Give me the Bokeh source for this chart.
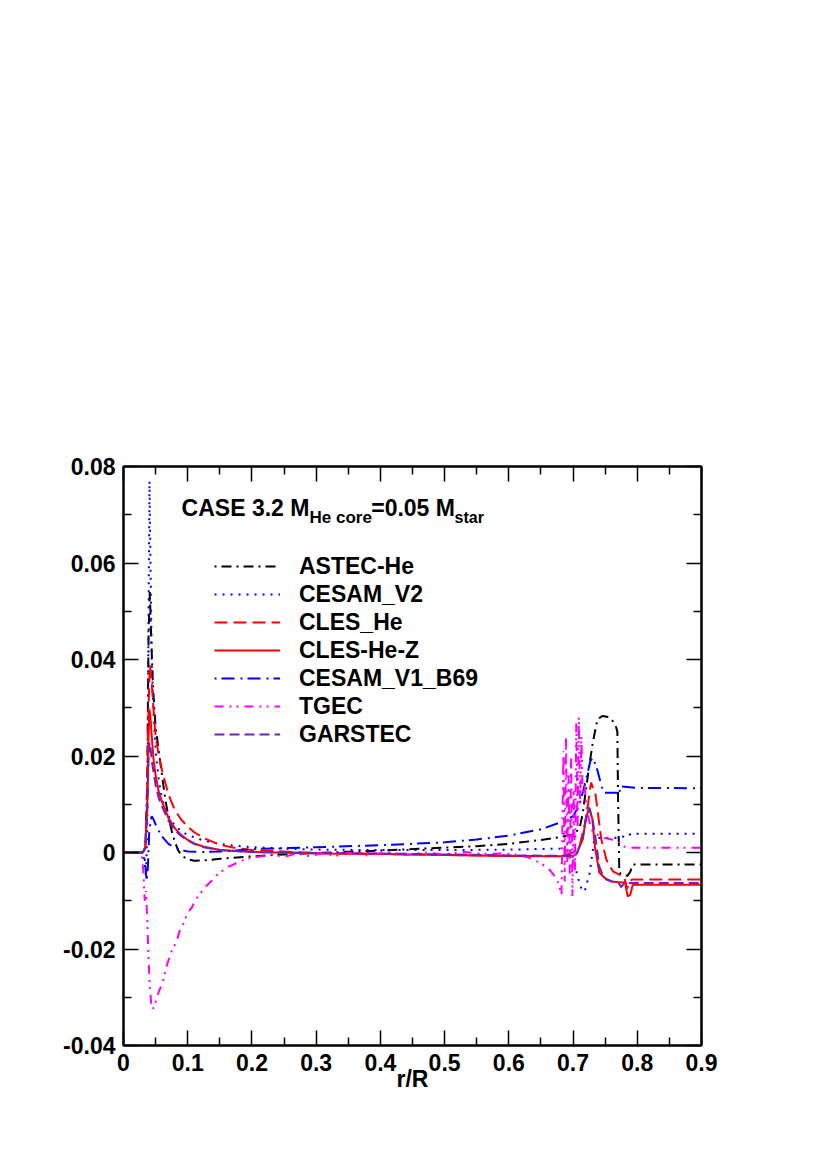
from bokeh.plotting import figure
from bokeh.models import (FixedTicker, LinearAxis, Legend, LegendItem, Label,
                          CustomJSTickFormatter, Range1d)
from bokeh.embed import file_html
from bokeh.resources import INLINE

# ---------------- data ----------------
astec_r = [0, 0.030, 0.034, 0.037, 0.039, 0.041, 0.043, 0.046, 0.050, 0.055, 0.060, 0.065,
           0.070, 0.075, 0.080, 0.085, 0.090, 0.100, 0.110, 0.130, 0.150, 0.200, 0.250, 0.300,
           0.400, 0.500, 0.550, 0.600, 0.650, 0.680, 0.700, 0.710, 0.715, 0.720, 0.726, 0.731,
           0.738, 0.746, 0.755, 0.762, 0.767, 0.769, 0.770, 0.772, 0.778, 0.785, 0.789, 0.793, 0.900]
astec_v = [0, 0, 0.001, 0.015, 0.045, 0.054, 0.045, 0.034, 0.026, 0.021, 0.016, 0.011,
           0.0075, 0.0045, 0.0022, 0.0005, -0.0006, -0.0014, -0.0017, -0.0016, -0.0013, -0.0008, -0.0004, -0.0001,
           0.0004, 0.0010, 0.0013, 0.0018, 0.0026, 0.0032, 0.0037, 0.0050, 0.0080, 0.0130, 0.0187, 0.0230,
           0.0276, 0.0283, 0.0281, 0.0272, 0.0260, 0.0250, 0.0120, -0.0042, -0.0047, -0.0048, -0.0040, -0.0025, -0.0025]

cesam2_r = [0, 0.030, 0.033, 0.035, 0.037, 0.039, 0.0405, 0.042, 0.044, 0.047, 0.050, 0.055,
            0.060, 0.070, 0.080, 0.090, 0.100, 0.120, 0.140, 0.160, 0.200, 0.250, 0.300, 0.400,
            0.500, 0.600, 0.680, 0.690, 0.700, 0.707, 0.713, 0.718, 0.726, 0.733, 0.740, 0.750,
            0.760, 0.770, 0.778, 0.783, 0.790, 0.900]
cesam2_v = [0, 0, -0.002, -0.005, 0.005, 0.050, 0.077, 0.060, 0.040, 0.028, 0.021, 0.015,
            0.011, 0.0075, 0.0056, 0.0044, 0.0036, 0.0027, 0.0020, 0.0016, 0.0011, 0.0008, 0.0006, 0.0005,
            0.0005, 0.0006, 0.0008, 0.0004, -0.0010, -0.0050, -0.0075, -0.0081, -0.0042, 0.0027, 0.0030, 0.0030,
            0.0031, 0.0030, 0.0033, 0.0031, 0.0039, 0.0039]

cles_r = [0, 0.030, 0.034, 0.037, 0.039, 0.041, 0.043, 0.046, 0.050, 0.055, 0.060, 0.070,
          0.080, 0.090, 0.100, 0.110, 0.125, 0.150, 0.175, 0.200, 0.300, 0.400, 0.500, 0.600,
          0.680, 0.700, 0.710, 0.720, 0.728, 0.735, 0.744, 0.752, 0.762, 0.772, 0.780, 0.784,
          0.788, 0.792, 0.900]
cles_v = [0, 0, 0.001, 0.012, 0.030, 0.039, 0.037, 0.031, 0.024, 0.020, 0.017, 0.012,
          0.0088, 0.0068, 0.0054, 0.0042, 0.0030, 0.0016, 0.0009, 0.0005, -0.0001, -0.0003, -0.0005, -0.0007,
          -0.0008, 0.0000, 0.0013, 0.0068, 0.0145, 0.0120, 0.0027, -0.0015, -0.0039, -0.0046, -0.0052, -0.0075,
          -0.0060, -0.0056, -0.0056]

clesz_r = [0, 0.030, 0.034, 0.037, 0.039, 0.0405, 0.042, 0.044, 0.047, 0.050, 0.055, 0.060,
           0.070, 0.080, 0.090, 0.100, 0.110, 0.125, 0.150, 0.200, 0.300, 0.400, 0.500, 0.600,
           0.680, 0.700, 0.705, 0.715, 0.720, 0.725, 0.730, 0.734, 0.741, 0.752, 0.760, 0.775,
           0.781, 0.785, 0.789, 0.793, 0.900]
clesz_v = [0, 0, 0.001, 0.010, 0.024, 0.0296, 0.028, 0.024, 0.019, 0.016, 0.0125, 0.0105,
           0.0072, 0.0050, 0.0036, 0.0026, 0.0019, 0.0012, 0.0005, 0.0001, -0.0002, -0.0003, -0.0005, -0.0007,
           -0.0008, -0.0007, -0.0004, 0.0027, 0.0070, 0.0093, 0.0070, 0.0012, -0.0042, -0.0056, -0.0060, -0.0062,
           -0.0062, -0.0091, -0.0088, -0.0067, -0.0067]

b69_r = [0, 0.030, 0.033, 0.036, 0.038, 0.040, 0.042, 0.044, 0.047, 0.050, 0.055, 0.060,
         0.070, 0.080, 0.090, 0.100, 0.120, 0.150, 0.200, 0.250, 0.300, 0.400, 0.500, 0.550,
         0.600, 0.650, 0.684, 0.700, 0.710, 0.720, 0.727, 0.731, 0.738, 0.745, 0.749, 0.760,
         0.768, 0.771, 0.774, 0.800, 0.900]
b69_v = [0, 0, -0.001, -0.006, -0.003, 0.004, 0.0065, 0.0075, 0.0068, 0.0058, 0.0045, 0.0033,
         0.0018, 0.0010, 0.0005, 0.0002, 0.0001, 0.0002, 0.0007, 0.0009, 0.0011, 0.0015, 0.0021, 0.0027,
         0.0035, 0.0048, 0.0064, 0.0075, 0.0099, 0.0150, 0.0190, 0.0197, 0.0170, 0.0135, 0.0124, 0.0124,
         0.0124, 0.0118, 0.0137, 0.0134, 0.0133]

tgec_r = [0, 0.028, 0.031, 0.033, 0.035, 0.037, 0.039, 0.041, 0.043, 0.045, 0.048, 0.052,
          0.056, 0.061, 0.066, 0.071, 0.076, 0.082, 0.088, 0.094, 0.100, 0.106, 0.112, 0.118,
          0.124, 0.130, 0.138, 0.146, 0.154, 0.162, 0.170, 0.180, 0.190, 0.200, 0.215, 0.230,
          0.250, 0.270, 0.290, 0.310, 0.330, 0.350, 0.380, 0.410, 0.440, 0.470, 0.500, 0.530,
          0.560, 0.590, 0.610, 0.630, 0.650, 0.665, 0.675, 0.682, 0.685, 0.687, 0.689, 0.691,
          0.693, 0.695, 0.697, 0.699, 0.701, 0.703, 0.705, 0.707, 0.709, 0.711, 0.713, 0.715,
          0.718, 0.722, 0.730, 0.740, 0.750, 0.760, 0.770, 0.780, 0.790, 0.800, 0.900]
tgec_v = [0, 0, -0.004, -0.010, -0.008, -0.014, -0.022, -0.028, -0.031, -0.0325, -0.032, -0.030,
          -0.0285, -0.027, -0.024, -0.022, -0.020, -0.0187, -0.016, -0.0145, -0.0125, -0.0115, -0.0098, -0.0088,
          -0.0077, -0.0068, -0.0058, -0.0046, -0.0038, -0.0030, -0.0026, -0.0018, -0.0015, -0.0010, -0.0008, -0.0004,
          -0.0009, -0.0002, -0.0008, -0.0001, -0.0007, 0.0000, -0.0006, 0.0001, -0.0005, 0.0000, -0.0004, 0.0001,
          -0.0003, -0.0002, -0.0004, -0.0010, -0.0022, -0.0038, -0.0055, -0.0088, 0.0210, -0.0060, 0.0240, -0.0020,
          0.0160, -0.0050, 0.0200, -0.0090, 0.0130, -0.0040, 0.0270, 0.0050, 0.0280, 0.0100, 0.0240, 0.0120,
          0.0140, 0.0080, 0.0045, 0.0035, 0.0030, 0.0027, 0.0024, 0.0012, 0.0010, 0.0010, 0.0010]

garstec_r = [0, 0.030, 0.034, 0.037, 0.039, 0.0405, 0.042, 0.044, 0.047, 0.050, 0.055, 0.060,
             0.070, 0.080, 0.090, 0.100, 0.110, 0.125, 0.150, 0.200, 0.300, 0.400, 0.500, 0.600,
             0.680, 0.700, 0.706, 0.715, 0.720, 0.725, 0.730, 0.735, 0.741, 0.748, 0.760, 0.770,
             0.775, 0.780, 0.900]
garstec_v = [0, 0, 0.001, 0.008, 0.019, 0.0228, 0.022, 0.019, 0.0165, 0.014, 0.0112, 0.0095,
             0.0066, 0.0046, 0.0034, 0.0025, 0.0018, 0.0011, 0.0005, 0.0001, -0.0001, -0.0002, -0.0004, -0.0006,
             -0.0007, -0.0006, -0.0002, 0.0030, 0.0072, 0.0092, 0.0072, 0.0030, -0.0030, -0.0052, -0.0060, -0.0061,
             -0.0072, -0.0063, -0.0063]

series_names = ["ASTEC-He", "CESAM_V2", "CLES_He", "CLES-He-Z", "CESAM_V1_B69", "TGEC", "GARSTEC"]
series_colors = ["#000000", "#0000ff", "#ff0000", "#ff0000", "#0000ff", "#ff00ff", "#7221bc"]
series_dashes = ["2 5 10 5", "2 6", "13 6", "solid", "2 5 13 6", "9 6 2 5 2 6", "10 5"]

x_ticks = [0, 0.1, 0.2, 0.3, 0.4, 0.5, 0.6, 0.7, 0.8, 0.9]
x_tick_labels = ["0", "0.1", "0.2", "0.3", "0.4", "0.5", "0.6", "0.7", "0.8", "0.9"]
x_minor = [0.05, 0.15, 0.25, 0.35, 0.45, 0.55, 0.65, 0.75, 0.85]
y_ticks = [-0.04, -0.02, 0, 0.02, 0.04, 0.06, 0.08]
y_tick_labels = ["-0.04", "-0.02", "0", "0.02", "0.04", "0.06", "0.08"]
y_minor = [-0.03, -0.01, 0.01, 0.03, 0.05, 0.07]

FONT = "Liberation Sans"

p = figure(frame_width=578, frame_height=579,
           x_range=Range1d(0, 0.9), y_range=Range1d(-0.04, 0.08),
           output_backend="svg", toolbar_location=None,
           min_border_left=123, min_border_top=466, min_border_right=30, min_border_bottom=75)
p.grid.visible = False
p.outline_line_color = "black"
p.outline_line_width = 2
p.background_fill_color = "white"
p.border_fill_color = "white"


def style_axis(ax, ticks, minor, labels):
    ax.ticker = FixedTicker(ticks=ticks, minor_ticks=minor)
    ax.major_tick_in = 15
    ax.major_tick_out = 0
    ax.minor_tick_in = 8
    ax.minor_tick_out = 0
    ax.major_tick_line_width = 1.5
    ax.minor_tick_line_width = 1.5
    ax.major_tick_line_color = "black"
    ax.minor_tick_line_color = "black"
    ax.axis_line_width = 2
    ax.axis_line_color = "black"
    if labels is None:
        ax.formatter = CustomJSTickFormatter(code="return ''")
        ax.major_label_text_font_size = "0px"
        ax.major_label_standoff = 0
    else:
        ax.major_label_overrides = {t: l for t, l in zip(ticks, labels)}
        ax.major_label_text_font = FONT
        ax.major_label_text_font_style = "bold"
        ax.major_label_text_font_size = "23px"
        ax.major_label_text_color = "black"
        ax.major_label_standoff = 8


style_axis(p.xaxis[0], x_ticks, x_minor, x_tick_labels)
style_axis(p.yaxis[0], y_ticks, y_minor, y_tick_labels)
p.xaxis[0].axis_label = "r/R"
p.xaxis[0].axis_label_text_font = FONT
p.xaxis[0].axis_label_text_font_style = "bold"
p.xaxis[0].axis_label_text_font_size = "23px"
p.xaxis[0].axis_label_text_color = "black"
p.xaxis[0].axis_label_standoff = -8

top_ax = LinearAxis()
style_axis(top_ax, x_ticks, x_minor, None)
p.add_layout(top_ax, "above")
right_ax = LinearAxis()
style_axis(right_ax, y_ticks, y_minor, None)
p.add_layout(right_ax, "right")

all_r = [astec_r, cesam2_r, cles_r, clesz_r, b69_r, tgec_r, garstec_r]
all_v = [astec_v, cesam2_v, cles_v, clesz_v, b69_v, tgec_v, garstec_v]
renderers = []
for r, v, c, d in zip(all_r, all_v, series_colors, series_dashes):
    renderers.append(p.line(r, v, line_color=c, line_width=2, line_dash=d))

legend = Legend(items=[LegendItem(label=n, renderers=[rr]) for n, rr in zip(series_names, renderers)],
                location=(91, 297), orientation="vertical",
                background_fill_alpha=0, border_line_color=None,
                padding=0, margin=0, spacing=0,
                glyph_width=66, glyph_height=28, label_height=28, label_standoff=19,
                label_text_font=FONT, label_text_font_style="bold",
                label_text_font_size="23px", label_text_color="black")
p.add_layout(legend)

title_parts = [("CASE 3.2 M", 0.0905, 0.07144, "23px"),
               ("He core", 0.2896, 0.06949, "17px"),
               ("=0.05 M", 0.3857, 0.07144, "23px"),
               ("star", 0.5154, 0.06949, "16px")]
for txt, tx, ty, fs in title_parts:
    p.add_layout(Label(x=tx, y=ty, text=txt, text_font=FONT, text_font_style="bold",
                       text_font_size=fs, text_baseline="alphabetic", text_color="black"))

open("out.html", "w").write(file_html(p, INLINE))
